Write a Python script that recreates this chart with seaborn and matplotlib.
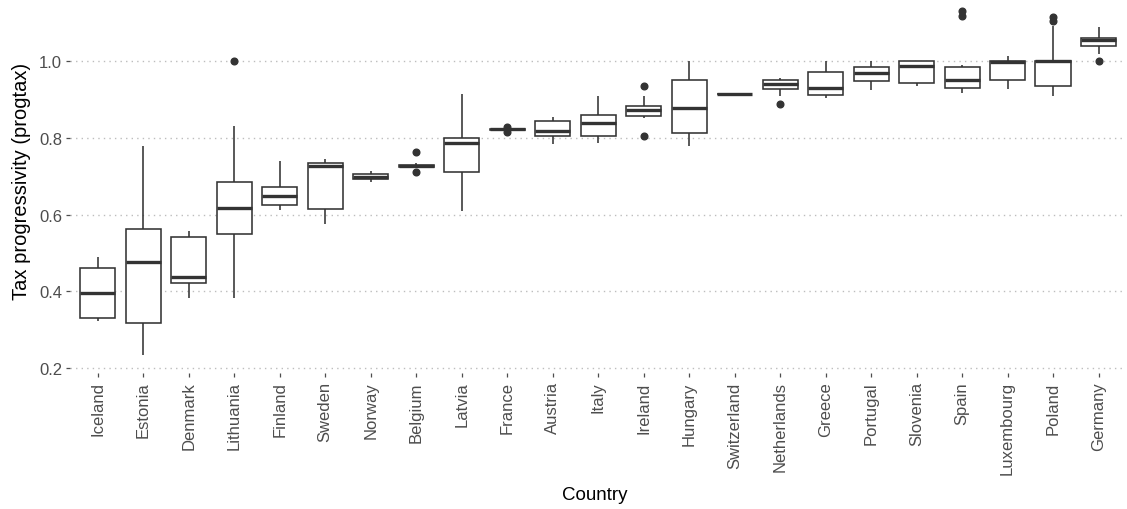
import numpy as np
import pandas as pd
import matplotlib
matplotlib.use("Agg")
import matplotlib.pyplot as plt
import seaborn as sns

# Tax progressivity (progtax) per country, ordered by median
countries = [
    "Iceland", "Estonia", "Denmark", "Lithuania", "Finland", "Sweden",
    "Norway", "Belgium", "Latvia", "France", "Austria", "Italy", "Ireland",
    "Hungary", "Switzerland", "Netherlands", "Greece", "Portugal",
    "Slovenia", "Spain", "Luxembourg", "Poland", "Germany",
]
whisker_low = [
    0.322, 0.233, 0.382, 0.382, 0.611, 0.575,
    0.684, 0.720, 0.6085, 0.8205, 0.783, 0.786, 0.852,
    0.779, 0.915, 0.9096, 0.903, 0.924,
    0.934, 0.916, 0.927, 0.9096, 1.018,
]
q1 = [
    0.330, 0.3165, 0.4215, 0.5484, 0.6256, 0.615,
    0.6925, 0.723, 0.710, 0.8215, 0.8054, 0.8054, 0.8575,
    0.8115, 0.915, 0.928, 0.9106, 0.9487,
    0.942, 0.9288, 0.9505, 0.9357, 1.038,
]
median = [
    0.395, 0.476, 0.438, 0.617, 0.649, 0.727,
    0.6985, 0.7256, 0.7863, 0.8228, 0.8176, 0.8385, 0.8723,
    0.8775, 0.915, 0.9393, 0.930, 0.9687,
    0.986, 0.9505, 0.997, 0.999, 1.056,
]
q3 = [
    0.461, 0.563, 0.541, 0.6855, 0.6717, 0.735,
    0.7047, 0.728, 0.7985, 0.824, 0.8437, 0.8585, 0.8836,
    0.9505, 0.915, 0.9505, 0.9705, 0.9844,
    0.999, 0.985, 0.9992, 1.001, 1.060,
]
whisker_high = [
    0.490, 0.7785, 0.556, 0.8306, 0.7394, 0.7455,
    0.714, 0.734, 0.914, 0.8245, 0.855, 0.908, 0.9096,
    1.000, 0.915, 0.9565, 1.000, 1.000,
    0.999, 0.990, 1.0138, 1.090, 1.0876,
]
outliers = [
    [], [], [], [1.000], [], [],
    [], [0.762, 0.710], [], [0.8285, 0.8155], [], [], [0.9357, 0.8054],
    [], [], [0.888], [], [],
    [], [1.118, 1.1295], [], [1.1035, 1.1155], [1.001],
]

# Expand each five-number summary into a sample for sns.boxplot:
# blocks of equal values put the quartiles exactly on q1 / median / q3.
rows = []
for i, name in enumerate(countries):
    sample = ([whisker_low[i]] + [q1[i]] * 20 + [median[i]] * 20
              + [q3[i]] * 20 + [whisker_high[i]] + outliers[i])
    rows += [(name, v) for v in sample]
df = pd.DataFrame(rows, columns=["Country", "progtax"])

sns.set_theme(style="white")
plt.rcParams["font.family"] = ["Liberation Sans", "DejaVu Sans"]

W, H = 1127, 510
fig = plt.figure(figsize=(W / 100, H / 100), dpi=100)
ax = fig.add_axes([70.4 / W, (H - 374) / H, (1125.8 - 70.4) / W, 374 / H])

dark = "#333333"
sns.boxplot(
    data=df, x="Country", y="progtax", order=countries, ax=ax,
    color="white", linecolor=dark, linewidth=1.15, width=0.77,
    showcaps=False, whis=1.5,
    boxprops=dict(facecolor="white", edgecolor=dark),
    medianprops=dict(color=dark, linewidth=2.4),
    flierprops=dict(marker="o", markerfacecolor=dark, markeredgecolor=dark,
                    markersize=4.8),
)

ax.set_xlim(-0.6, len(countries) - 0.4)
ax.set_ylim(0.187, 1.1616)
ax.set_yticks([0.2, 0.4, 0.6, 0.8, 1.0])
ax.set_yticklabels(["0.2", "0.4", "0.6", "0.8", "1.0"])

ax.yaxis.grid(True, linestyle=(0, (1, 3)), color="#bdbdbd", linewidth=1.0)
ax.xaxis.grid(False)
ax.set_axisbelow(True)
sns.despine(ax=ax, left=True, bottom=True)

ax.tick_params(axis="both", which="major", length=3.2, width=0.9,
               color="#4d4d4d", labelcolor="#4d4d4d", labelsize=12,
               left=True, bottom=True, pad=2.8)
plt.setp(ax.get_xticklabels(), rotation=90, ha="center", va="top")

ax.set_xlabel("Country", fontsize=13.5, color="black")
ax.set_ylabel("Tax progressivity (progtax)", fontsize=14.5, color="black")
ax.xaxis.set_label_coords(0.4968, (374 - 496) / 374)
ax.xaxis.label.set_va("center")
ax.yaxis.set_label_coords((21 - 70.4) / 1055.4, (374 - 181.5) / 374)
ax.yaxis.label.set_va("center")

fig.savefig("out.png", dpi=100)
